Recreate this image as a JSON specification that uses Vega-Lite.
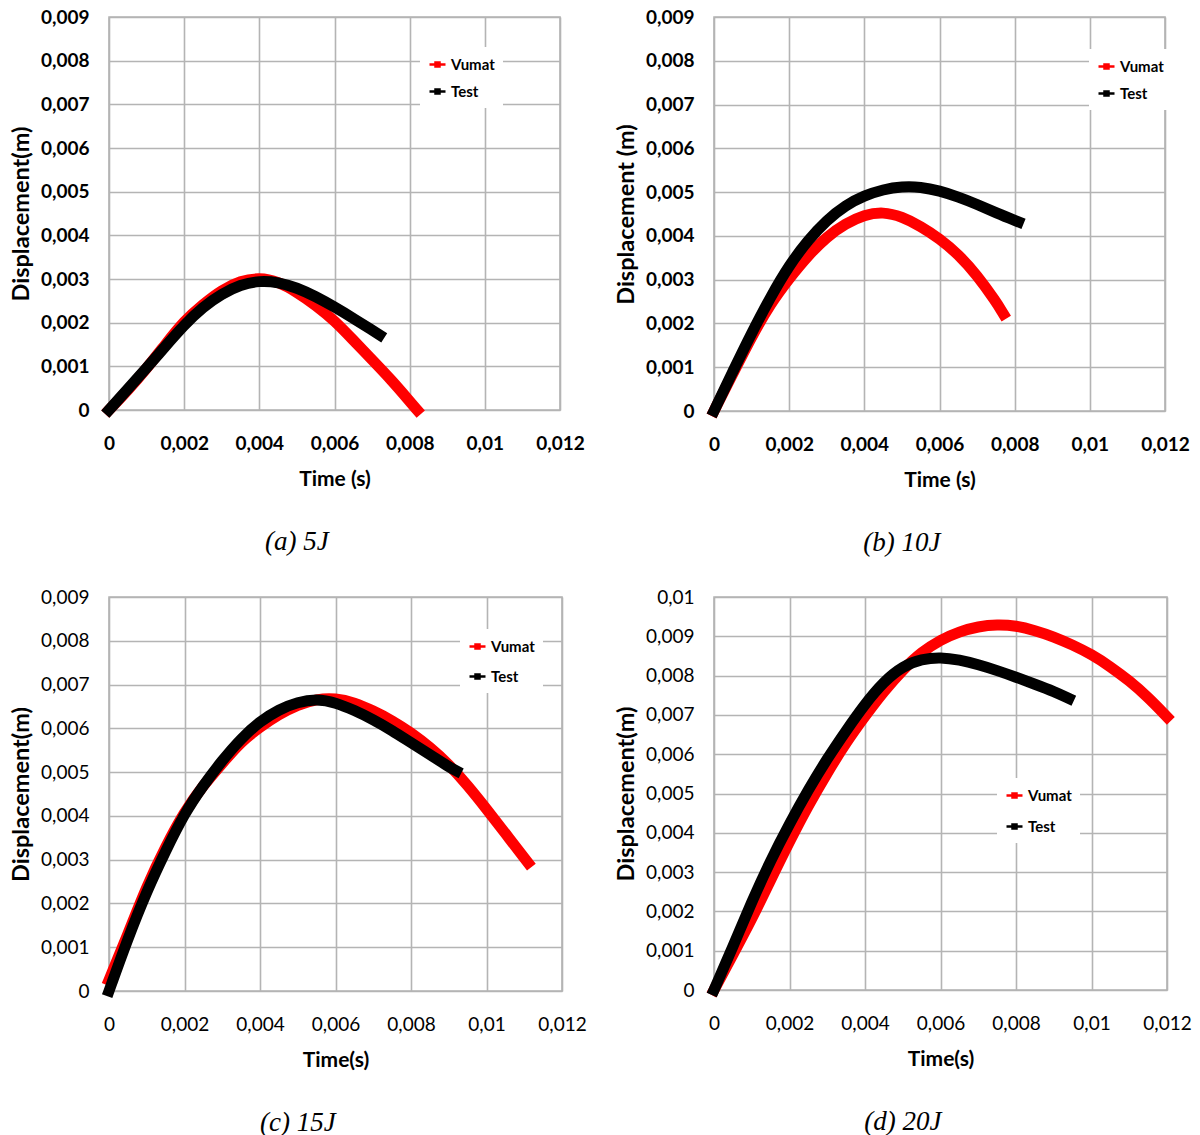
{
  "$schema": "https://vega.github.io/schema/vega-lite/v6.json",
  "padding": {"left": 8, "top": 7, "right": 5, "bottom": 5},
  "background": "white",
  "bounds": "flush",
  "columns": 2,
  "spacing": {"row": 186, "column": 152},
  "resolve": {"scale": {"color": "independent"}},
  "data": {
    "values": [
      {"p": "a", "s": "Vumat", "t": 0, "d": 0},
      {"p": "a", "s": "Vumat", "t": 0.0005, "d": 0.00045},
      {"p": "a", "s": "Vumat", "t": 0.001, "d": 0.00095},
      {"p": "a", "s": "Vumat", "t": 0.0015, "d": 0.0015},
      {"p": "a", "s": "Vumat", "t": 0.002, "d": 0.00204},
      {"p": "a", "s": "Vumat", "t": 0.0025, "d": 0.00242},
      {"p": "a", "s": "Vumat", "t": 0.003, "d": 0.00275},
      {"p": "a", "s": "Vumat", "t": 0.0035, "d": 0.00296},
      {"p": "a", "s": "Vumat", "t": 0.004, "d": 0.00303},
      {"p": "a", "s": "Vumat", "t": 0.0045, "d": 0.00294},
      {"p": "a", "s": "Vumat", "t": 0.005, "d": 0.0027},
      {"p": "a", "s": "Vumat", "t": 0.0055, "d": 0.0024},
      {"p": "a", "s": "Vumat", "t": 0.006, "d": 0.00205},
      {"p": "a", "s": "Vumat", "t": 0.0065, "d": 0.0016},
      {"p": "a", "s": "Vumat", "t": 0.007, "d": 0.00115},
      {"p": "a", "s": "Vumat", "t": 0.0075, "d": 0.0007},
      {"p": "a", "s": "Vumat", "t": 0.008, "d": 0.0002},
      {"p": "a", "s": "Vumat", "t": 0.0082, "d": 0},
      {"p": "a", "s": "Test", "t": 0, "d": 0},
      {"p": "a", "s": "Test", "t": 0.0005, "d": 0.00048},
      {"p": "a", "s": "Test", "t": 0.001, "d": 0.00096},
      {"p": "a", "s": "Test", "t": 0.0015, "d": 0.00146},
      {"p": "a", "s": "Test", "t": 0.002, "d": 0.00195},
      {"p": "a", "s": "Test", "t": 0.0025, "d": 0.00236},
      {"p": "a", "s": "Test", "t": 0.003, "d": 0.00266},
      {"p": "a", "s": "Test", "t": 0.0035, "d": 0.00287},
      {"p": "a", "s": "Test", "t": 0.004, "d": 0.00296},
      {"p": "a", "s": "Test", "t": 0.0045, "d": 0.00293},
      {"p": "a", "s": "Test", "t": 0.005, "d": 0.0028},
      {"p": "a", "s": "Test", "t": 0.0055, "d": 0.0026},
      {"p": "a", "s": "Test", "t": 0.006, "d": 0.00236},
      {"p": "a", "s": "Test", "t": 0.0065, "d": 0.0021},
      {"p": "a", "s": "Test", "t": 0.007, "d": 0.00183},
      {"p": "a", "s": "Test", "t": 0.0072, "d": 0.00172},
      {"p": "b", "s": "Vumat", "t": 0, "d": 0},
      {"p": "b", "s": "Vumat", "t": 0.0005, "d": 0.00085},
      {"p": "b", "s": "Vumat", "t": 0.001, "d": 0.0017},
      {"p": "b", "s": "Vumat", "t": 0.0015, "d": 0.00245},
      {"p": "b", "s": "Vumat", "t": 0.002, "d": 0.00303},
      {"p": "b", "s": "Vumat", "t": 0.0025, "d": 0.00355},
      {"p": "b", "s": "Vumat", "t": 0.003, "d": 0.00398},
      {"p": "b", "s": "Vumat", "t": 0.0035, "d": 0.00428},
      {"p": "b", "s": "Vumat", "t": 0.004, "d": 0.00448},
      {"p": "b", "s": "Vumat", "t": 0.0045, "d": 0.00455},
      {"p": "b", "s": "Vumat", "t": 0.005, "d": 0.00444},
      {"p": "b", "s": "Vumat", "t": 0.0055, "d": 0.00422},
      {"p": "b", "s": "Vumat", "t": 0.006, "d": 0.00394},
      {"p": "b", "s": "Vumat", "t": 0.0065, "d": 0.00358},
      {"p": "b", "s": "Vumat", "t": 0.007, "d": 0.0031},
      {"p": "b", "s": "Vumat", "t": 0.0075, "d": 0.0025},
      {"p": "b", "s": "Vumat", "t": 0.0077, "d": 0.00222},
      {"p": "b", "s": "Test", "t": 0, "d": 0},
      {"p": "b", "s": "Test", "t": 0.0005, "d": 0.0009},
      {"p": "b", "s": "Test", "t": 0.001, "d": 0.00178},
      {"p": "b", "s": "Test", "t": 0.0015, "d": 0.0026},
      {"p": "b", "s": "Test", "t": 0.002, "d": 0.00333},
      {"p": "b", "s": "Test", "t": 0.0025, "d": 0.0039},
      {"p": "b", "s": "Test", "t": 0.003, "d": 0.00436},
      {"p": "b", "s": "Test", "t": 0.0035, "d": 0.0047},
      {"p": "b", "s": "Test", "t": 0.004, "d": 0.00492},
      {"p": "b", "s": "Test", "t": 0.0045, "d": 0.00506},
      {"p": "b", "s": "Test", "t": 0.005, "d": 0.00513},
      {"p": "b", "s": "Test", "t": 0.0055, "d": 0.00512},
      {"p": "b", "s": "Test", "t": 0.006, "d": 0.00503},
      {"p": "b", "s": "Test", "t": 0.0065, "d": 0.00489},
      {"p": "b", "s": "Test", "t": 0.007, "d": 0.00472},
      {"p": "b", "s": "Test", "t": 0.0075, "d": 0.00453},
      {"p": "b", "s": "Test", "t": 0.0081, "d": 0.00432},
      {"p": "c", "s": "Vumat", "t": 0, "d": 0.00025},
      {"p": "c", "s": "Vumat", "t": 0.0005, "d": 0.0013},
      {"p": "c", "s": "Vumat", "t": 0.001, "d": 0.0024},
      {"p": "c", "s": "Vumat", "t": 0.0015, "d": 0.0033},
      {"p": "c", "s": "Vumat", "t": 0.002, "d": 0.0041},
      {"p": "c", "s": "Vumat", "t": 0.0025, "d": 0.0047},
      {"p": "c", "s": "Vumat", "t": 0.003, "d": 0.0052},
      {"p": "c", "s": "Vumat", "t": 0.0035, "d": 0.0057},
      {"p": "c", "s": "Vumat", "t": 0.004, "d": 0.00603},
      {"p": "c", "s": "Vumat", "t": 0.0045, "d": 0.00632},
      {"p": "c", "s": "Vumat", "t": 0.005, "d": 0.00654},
      {"p": "c", "s": "Vumat", "t": 0.0055, "d": 0.00667},
      {"p": "c", "s": "Vumat", "t": 0.006, "d": 0.00669},
      {"p": "c", "s": "Vumat", "t": 0.0065, "d": 0.00659},
      {"p": "c", "s": "Vumat", "t": 0.007, "d": 0.0064},
      {"p": "c", "s": "Vumat", "t": 0.0075, "d": 0.00618},
      {"p": "c", "s": "Vumat", "t": 0.008, "d": 0.0059},
      {"p": "c", "s": "Vumat", "t": 0.0085, "d": 0.00557},
      {"p": "c", "s": "Vumat", "t": 0.009, "d": 0.00518},
      {"p": "c", "s": "Vumat", "t": 0.0095, "d": 0.0047},
      {"p": "c", "s": "Vumat", "t": 0.01, "d": 0.00416},
      {"p": "c", "s": "Vumat", "t": 0.0105, "d": 0.0036},
      {"p": "c", "s": "Vumat", "t": 0.0111, "d": 0.00293},
      {"p": "c", "s": "Test", "t": 0, "d": 0},
      {"p": "c", "s": "Test", "t": 0.0005, "d": 0.0012},
      {"p": "c", "s": "Test", "t": 0.001, "d": 0.00228},
      {"p": "c", "s": "Test", "t": 0.0015, "d": 0.0032},
      {"p": "c", "s": "Test", "t": 0.002, "d": 0.00406},
      {"p": "c", "s": "Test", "t": 0.0025, "d": 0.0047},
      {"p": "c", "s": "Test", "t": 0.003, "d": 0.00527},
      {"p": "c", "s": "Test", "t": 0.0035, "d": 0.00577},
      {"p": "c", "s": "Test", "t": 0.004, "d": 0.00616},
      {"p": "c", "s": "Test", "t": 0.0045, "d": 0.00643},
      {"p": "c", "s": "Test", "t": 0.005, "d": 0.0066},
      {"p": "c", "s": "Test", "t": 0.0055, "d": 0.00667},
      {"p": "c", "s": "Test", "t": 0.006, "d": 0.00659},
      {"p": "c", "s": "Test", "t": 0.0065, "d": 0.00641},
      {"p": "c", "s": "Test", "t": 0.007, "d": 0.0062},
      {"p": "c", "s": "Test", "t": 0.0075, "d": 0.00595},
      {"p": "c", "s": "Test", "t": 0.008, "d": 0.00567},
      {"p": "c", "s": "Test", "t": 0.0085, "d": 0.0054},
      {"p": "c", "s": "Test", "t": 0.009, "d": 0.00512},
      {"p": "c", "s": "Test", "t": 0.0092, "d": 0.00503},
      {"p": "d", "s": "Vumat", "t": 0, "d": 0},
      {"p": "d", "s": "Vumat", "t": 0.0005, "d": 0.0009},
      {"p": "d", "s": "Vumat", "t": 0.001, "d": 0.0018},
      {"p": "d", "s": "Vumat", "t": 0.0015, "d": 0.0028},
      {"p": "d", "s": "Vumat", "t": 0.002, "d": 0.00378},
      {"p": "d", "s": "Vumat", "t": 0.0025, "d": 0.0047},
      {"p": "d", "s": "Vumat", "t": 0.003, "d": 0.00553},
      {"p": "d", "s": "Vumat", "t": 0.0035, "d": 0.0063},
      {"p": "d", "s": "Vumat", "t": 0.004, "d": 0.00697},
      {"p": "d", "s": "Vumat", "t": 0.0045, "d": 0.0076},
      {"p": "d", "s": "Vumat", "t": 0.005, "d": 0.00815},
      {"p": "d", "s": "Vumat", "t": 0.0055, "d": 0.0086},
      {"p": "d", "s": "Vumat", "t": 0.006, "d": 0.00891},
      {"p": "d", "s": "Vumat", "t": 0.0065, "d": 0.00912},
      {"p": "d", "s": "Vumat", "t": 0.007, "d": 0.00925},
      {"p": "d", "s": "Vumat", "t": 0.0075, "d": 0.0093},
      {"p": "d", "s": "Vumat", "t": 0.008, "d": 0.00927},
      {"p": "d", "s": "Vumat", "t": 0.0085, "d": 0.00915},
      {"p": "d", "s": "Vumat", "t": 0.009, "d": 0.00899},
      {"p": "d", "s": "Vumat", "t": 0.0095, "d": 0.00878},
      {"p": "d", "s": "Vumat", "t": 0.01, "d": 0.00854},
      {"p": "d", "s": "Vumat", "t": 0.0105, "d": 0.00823},
      {"p": "d", "s": "Vumat", "t": 0.011, "d": 0.00787},
      {"p": "d", "s": "Vumat", "t": 0.0115, "d": 0.00745},
      {"p": "d", "s": "Vumat", "t": 0.012, "d": 0.00695},
      {"p": "d", "s": "Test", "t": 0, "d": 0},
      {"p": "d", "s": "Test", "t": 0.0005, "d": 0.0011},
      {"p": "d", "s": "Test", "t": 0.001, "d": 0.00225},
      {"p": "d", "s": "Test", "t": 0.0015, "d": 0.0033},
      {"p": "d", "s": "Test", "t": 0.002, "d": 0.00423},
      {"p": "d", "s": "Test", "t": 0.0025, "d": 0.0051},
      {"p": "d", "s": "Test", "t": 0.003, "d": 0.00589},
      {"p": "d", "s": "Test", "t": 0.0035, "d": 0.0066},
      {"p": "d", "s": "Test", "t": 0.004, "d": 0.00728},
      {"p": "d", "s": "Test", "t": 0.0045, "d": 0.00785},
      {"p": "d", "s": "Test", "t": 0.005, "d": 0.00824},
      {"p": "d", "s": "Test", "t": 0.0055, "d": 0.00842},
      {"p": "d", "s": "Test", "t": 0.006, "d": 0.00847},
      {"p": "d", "s": "Test", "t": 0.0065, "d": 0.0084},
      {"p": "d", "s": "Test", "t": 0.007, "d": 0.00828},
      {"p": "d", "s": "Test", "t": 0.0075, "d": 0.00813},
      {"p": "d", "s": "Test", "t": 0.008, "d": 0.00796},
      {"p": "d", "s": "Test", "t": 0.0085, "d": 0.00778},
      {"p": "d", "s": "Test", "t": 0.009, "d": 0.0076},
      {"p": "d", "s": "Test", "t": 0.0094, "d": 0.00742}
    ]
  },
  "concat": [
    {
      "width": 451,
      "height": 393,
      "title": {"text": "(a) 5J"},
      "transform": [{"filter": "datum.p === 'a'"}],
      "mark": {"type": "line", "strokeWidth": 11, "interpolate": "basis", "strokeCap": "square", "clip": false},
      "encoding": {
        "x": {"field": "t", "type": "quantitative", "scale": {"domain": [0, 0.012], "nice": false},
          "axis": {"title": "Time (s)", "values": [0, 0.002, 0.004, 0.006, 0.008, 0.01, 0.012], "labelExpr": "replace(format(datum.value, '.3~f'), '.', ',')"}},
        "y": {"field": "d", "type": "quantitative", "scale": {"domain": [0, 0.009], "nice": false},
          "axis": {"title": "Displacement(m)", "values": [0, 0.001, 0.002, 0.003, 0.004, 0.005, 0.006, 0.007, 0.008, 0.009], "labelExpr": "replace(format(datum.value, '.3~f'), '.', ',')"}},
        "color": {"field": "s", "type": "nominal", "scale": {"domain": ["Vumat", "Test"], "range": ["#ff0000", "#000000"]},
          "legend": {"title": null, "legendX": 311, "legendY": 30, "rowPadding": 9}}
      }
    },
    {
      "width": 451,
      "height": 394,
      "title": {"text": "(b) 10J"},
      "transform": [{"filter": "datum.p === 'b'"}],
      "mark": {"type": "line", "strokeWidth": 11, "interpolate": "basis", "strokeCap": "square", "clip": false},
      "encoding": {
        "x": {"field": "t", "type": "quantitative", "scale": {"domain": [0, 0.012], "nice": false},
          "axis": {"title": "Time (s)", "values": [0, 0.002, 0.004, 0.006, 0.008, 0.01, 0.012], "labelExpr": "replace(format(datum.value, '.3~f'), '.', ',')"}},
        "y": {"field": "d", "type": "quantitative", "scale": {"domain": [0, 0.009], "nice": false},
          "axis": {"title": "Displacement (m)", "values": [0, 0.001, 0.002, 0.003, 0.004, 0.005, 0.006, 0.007, 0.008, 0.009], "labelExpr": "replace(format(datum.value, '.3~f'), '.', ',')"}},
        "color": {"field": "s", "type": "nominal", "scale": {"domain": ["Vumat", "Test"], "range": ["#ff0000", "#000000"]},
          "legend": {"title": null, "legendX": 375, "legendY": 32, "rowPadding": 9}}
      }
    },
    {
      "width": 453,
      "height": 394,
      "title": {"text": "(c) 15J"},
      "transform": [{"filter": "datum.p === 'c'"}],
      "mark": {"type": "line", "strokeWidth": 11, "interpolate": "basis", "strokeCap": "square", "clip": false},
      "encoding": {
        "x": {"field": "t", "type": "quantitative", "scale": {"domain": [0, 0.012], "nice": false},
          "axis": {"title": "Time(s)", "labelFontWeight": "normal", "values": [0, 0.002, 0.004, 0.006, 0.008, 0.01, 0.012], "labelExpr": "replace(format(datum.value, '.3~f'), '.', ',')"}},
        "y": {"field": "d", "type": "quantitative", "scale": {"domain": [0, 0.009], "nice": false},
          "axis": {"title": "Displacement(m)", "labelFontWeight": "normal", "values": [0, 0.001, 0.002, 0.003, 0.004, 0.005, 0.006, 0.007, 0.008, 0.009], "labelExpr": "replace(format(datum.value, '.3~f'), '.', ',')"}},
        "color": {"field": "s", "type": "nominal", "scale": {"domain": ["Vumat", "Test"], "range": ["#ff0000", "#000000"]},
          "legend": {"title": null, "legendX": 351, "legendY": 32, "rowPadding": 12}}
      }
    },
    {
      "width": 453,
      "height": 393,
      "title": {"text": "(d) 20J"},
      "transform": [{"filter": "datum.p === 'd'"}],
      "mark": {"type": "line", "strokeWidth": 11, "interpolate": "basis", "strokeCap": "square", "clip": false},
      "encoding": {
        "x": {"field": "t", "type": "quantitative", "scale": {"domain": [0, 0.012], "nice": false},
          "axis": {"title": "Time(s)", "labelFontWeight": "normal", "values": [0, 0.002, 0.004, 0.006, 0.008, 0.01, 0.012], "labelExpr": "replace(format(datum.value, '.3~f'), '.', ',')"}},
        "y": {"field": "d", "type": "quantitative", "scale": {"domain": [0, 0.01], "nice": false},
          "axis": {"title": "Displacement(m)", "labelFontWeight": "normal", "values": [0, 0.001, 0.002, 0.003, 0.004, 0.005, 0.006, 0.007, 0.008, 0.009, 0.01], "labelExpr": "replace(format(datum.value, '.3~f'), '.', ',')"}},
        "color": {"field": "s", "type": "nominal", "scale": {"domain": ["Vumat", "Test"], "range": ["#ff0000", "#000000"]},
          "legend": {"title": null, "legendX": 283, "legendY": 181, "rowPadding": 13}}
      }
    }
  ],
  "config": {
    "view": {"stroke": "#b4b4b4", "strokeWidth": 1.6},
    "axis": {
      "grid": true, "gridColor": "#b4b4b4", "gridWidth": 1.6, "gridOpacity": 1,
      "domain": false, "ticks": false, "tickSize": 0, "labelOverlap": false,
      "labelFont": "Lato", "labelFontSize": 19, "labelFontWeight": "bold", "labelColor": "#000000",
      "titleFont": "Lato", "titleFontWeight": "bold", "titleColor": "#000000"
    },
    "axisX": {"labelPadding": 24, "labelFlush": false, "titleFontSize": 21, "titlePadding": 15},
    "axisY": {"labelPadding": 20, "titleFontSize": 23.5, "titlePadding": 7},
    "legend": {
      "orient": "none", "fillColor": "white", "padding": 8,
      "symbolType": "M-1,0H1M-0.25,-0.25H0.25V0.25H-0.25Z", "symbolSize": 256, "symbolStrokeWidth": 2.5,
      "labelFont": "Lato", "labelFontSize": 15, "labelFontWeight": "bold", "labelColor": "#000000", "labelOffset": 4
    },
    "title": {
      "orient": "bottom", "anchor": "middle", "frame": "bounds",
      "font": "Liberation Serif", "fontStyle": "italic", "fontWeight": "normal", "fontSize": 27, "color": "#000000", "offset": 40
    }
  }
}
